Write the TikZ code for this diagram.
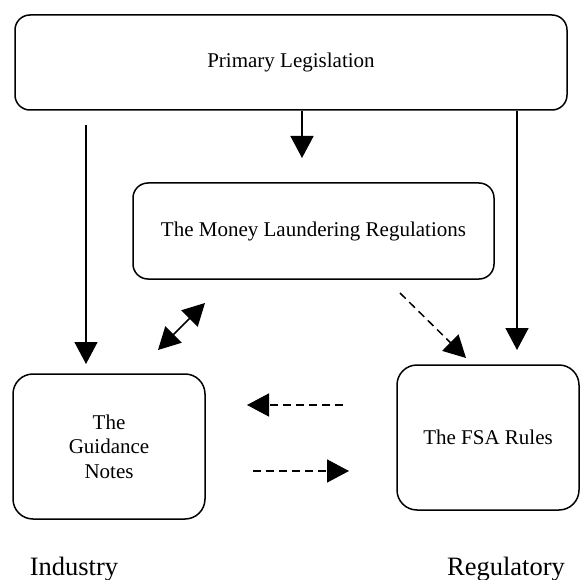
\documentclass[tikz,border=0pt]{standalone}
\usepackage{fontspec}
\setmainfont{Liberation Serif}
\usetikzlibrary{arrows.meta}
\tikzset{
  boxnode/.style = {draw=black, rectangle, rounded corners=15pt, line width=1.5pt,
    align=center, inner sep=0pt, font=\fontsize{21}{24.5}\selectfont},
  box_top/.style = {boxnode, minimum width=552pt, minimum height=95pt},% legislation
  box_mid/.style = {boxnode, minimum width=361pt, minimum height=96pt},% regulations
  box_low/.style = {boxnode, rounded corners=20pt, minimum width=187pt,
    minimum height=145pt},% guidance, rules
  side_lbl/.style = {anchor=base, font=\fontsize{26.5}{30}\selectfont},% bottom words
  link/.style = {->, line width=1.5pt},
  link_d/.style = {link, dash pattern=on 8pt off 5pt}
}
\begin{document}
\begin{tikzpicture}[x=1pt,y=-1pt,>={Triangle[width=23pt,length=22pt]}]
\useasboundingbox (0,0) rectangle (581,580);
\node [box_top] (prim) at (291,62.5) {Primary Legislation};
\node [box_mid] (mlr) at (313.5,231) {The Money Laundering Regulations};
\node [box_low, minimum width=192pt] (guide) at (109,446.5) {The\\Guidance\\Notes};
\node [box_low, minimum width=182pt] (fsa) at (488,437.5) {The FSA Rules};
\node [side_lbl] (ind) at (74,575) {Industry};
\node [side_lbl] (reg) at (506,575) {Regulatory};
% free ends of the connectors
\coordinate (legTop) at (86,125);
\coordinate (legEnd) at (86,364);
\coordinate (mlrIn) at (302,158);
\coordinate (fsaIn) at (517,350);
\coordinate (dblA) at (158,350);
\coordinate (dblB) at (205,303);
\coordinate (diagA) at (400,293);
\coordinate (diagB) at (466,358);
\coordinate (backA) at (343,405);
\coordinate (backB) at (247,405);
\coordinate (fwdA) at (253,471);
\coordinate (fwdB) at (349,471);
\draw [link] (legTop) -- (legEnd);
\draw [link] (prim.south -| mlrIn) -- (mlrIn);
\draw [link] (prim.south -| fsaIn) -- (fsaIn);
\draw [link, <->] (dblA) -- (dblB);
\draw [link_d] (diagA) -- (diagB);
\draw [link_d] (backA) -- (backB);
\draw [link_d] (fwdA) -- (fwdB);
\end{tikzpicture}
\end{document}
